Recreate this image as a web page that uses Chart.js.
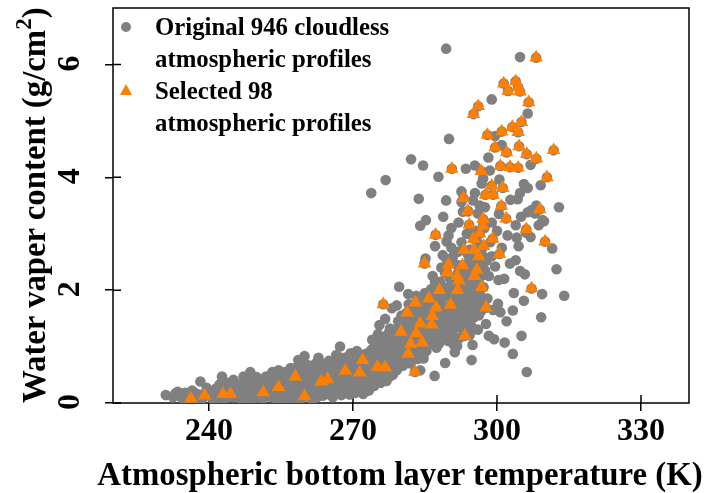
<!DOCTYPE html>
<html>
<head>
<meta charset="utf-8">
<script src="https://cdn.jsdelivr.net/npm/chart.js@4"></script>
<style>
  body { margin: 0; background: #fff; }
  #wrap { position: relative; width: 705px; height: 493px; }
  #legend div { position: absolute; left: 155px; font: bold 24.8px "Liberation Serif", serif; color: #000; white-space: nowrap; line-height: 32px; }
  #legend .dot { position: absolute; left: 121px; top: 22px; width: 10px; height: 10px; border-radius: 50%; background: #808080; }
  #legend .tri { position: absolute; left: 120px; top: 84px; width: 0; height: 0; border-left: 6px solid transparent; border-right: 6px solid transparent; border-bottom: 11px solid #ff7f00; }
  #ytitle { position: absolute; left: 53px; top: 403px; transform-origin: 0 0; transform: rotate(-90deg) translateY(-100%); font: bold 32.8px/38px "Liberation Serif", serif; color: #000; white-space: nowrap; }
  #ytitle sup { font-size: 23px; line-height: 0; vertical-align: 14px; }
  #xtitle { position: absolute; left: 400px; top: 455px; transform: translateX(-50%); font: bold 32.8px/38px "Liberation Serif", serif; color: #000; white-space: nowrap; }
</style>
</head>
<body>
<div id="wrap">
  <canvas id="chart" width="705" height="493"></canvas>
  <div id="ytitle">Water vaper content (g/cm<sup>2</sup>)</div>
  <div id="xtitle">Atmospheric bottom layer temperature (K)</div>
  <div id="legend">
    <span class="dot"></span>
    <div style="top:11px">Original 946 cloudless</div>
    <div style="top:43px">atmospheric profiles</div>
    <span class="tri"></span>
    <div style="top:75px">Selected 98</div>
    <div style="top:107px">atmospheric profiles</div>
  </div>
</div>
<script>
// [temperature K, water vapour g/cm2]
const originalProfiles = [
  [289.4,6.28],[304.8,6.13],[298.9,5.38],[306.4,5.13],[290,4.68],[282.1,4.32],[284.6,4.21],[287.8,4.01],[276.8,3.95],[273.8,3.72],
  [283.7,3.62],[289.4,3.59],[285.2,3.24],[293.5,4.15],[295.4,4.21],[298.2,4.35],[301,4.57],[299.6,4.73],[298.5,4.12],[297.1,3.98],
  [296.8,3.89],[300.5,3.96],[292.6,3.75],[295.4,3.72],[292.6,3.56],[295,3.59],[296.4,3.5],[297.5,3.47],[292.9,3.39],[296,3.36],
  [305.6,3.88],[306.4,3.81],[309.1,3.86],[307,4.22],[304.8,3.72],[304.3,3.61],[312.9,3.47],[308.2,3.5],[307.2,3.42],[306.4,3.38],
  [309.5,3.24],[307.9,3.36],[284,3.14],[289.9,2.97],[287.1,2.78],[289.5,2.86],[290.8,2.59],[285.1,2.56],[293.7,3],[302.2,2.97],
  [303.9,3.15],[308.7,3.15],[309.8,3.22],[307,2.94],[304.1,2.93],[304.5,2.78],[311.5,2.74],[298.9,2.6],[303.9,2.53],[302.7,2.47],
  [304.8,2.34],[305.8,2.28],[312.4,2.37],[300.3,2.18],[309.4,1.93],[314,1.9],[305.6,1.81],[303.3,1.64],[309.2,1.52],[300.7,1.61],
  [300.2,1.76],[295.4,1.7],[295.1,1.51],[293.3,1.54],[296,1.3],[305.1,1.19],[298.3,1.19],[299.4,1.13],[301.6,1.07],[294.9,1.03],
  [303.3,0.87],[294.7,0.76],[291.2,0.9],[290.9,1.04],[291.7,1.01],[289.2,0.71],[306.2,0.55],[287,0.48],[279.6,2.06],[274,1.12],
  [267.3,1],[281.5,1.93],[279.1,1.73],[278.1,1.68],[276.7,1.49],[275.5,1.38],[287.2,1.04],[284.7,0.79],[284,0.58],[277,0.39],[279.1,0.58],
  [231,0.14],[232.5,0.1],[233,0.17],[234,0.12],[235,0.18],[235.5,0.1],[236,0.14],[237,0.18],[237.5,0.09],[238,0.15],
  [238.2,0.38],[239,0.12],[240,0.2],[240.5,0.1],[241,0.17],[241.5,0.26],[242,0.12],[242.5,0.2],[242.7,0.47],[243.5,0.28],
  [244,0.1],[244.5,0.18],[245.1,0.41],[245.5,0.25],[246,0.12],[246.5,0.2],[247,0.33],[247.2,0.47],[247.5,0.08],[248,0.16],
  [248.6,0.55],[248.8,0.26],[249.2,0.38],[249.6,0.1],[250,0.2],[250.4,0.3],[250.9,0.42],[251.2,0.07],[251.6,0.16],[252,0.26],
  [252.3,0.38],[252.7,0.48],[253.1,0.1],[253.5,0.2],[253.8,0.33],[254.2,0.44],[254.5,0.58],[254.9,0.08],[255.3,0.17],[255.6,0.28],
  [256,0.4],[256.3,0.52],[256.7,0.12],[257,0.23],[257.4,0.35],[257.8,0.47],[258.1,0.62],[258.6,0.76],[258.4,0.1],[258.9,0.22],
  [259.2,0.33],[259.5,0.45],[259.9,0.83],[259.8,0.58],[260.2,0.12],[260.6,0.25],[260.9,0.38],[261.3,0.5],[261.6,0.64],[261.9,0.18],
  [262.3,0.3],[262.8,0.8],[262.7,0.42],[263,0.56],[263.3,0.7],[263.6,0.2],[264,0.33],[264.3,0.47],[264.7,0.6],[265,0.75],
  [265.3,0.14],[265.6,0.28],[265.9,0.73],[266,0.4],[266.4,0.54],[266.7,0.66],[267.1,0.22],[267.4,0.35],[267.7,0.48],[268,0.62],
  [268.3,0.8],[268.6,0.3],[269,0.82],[269,0.44],[269.4,0.57],[269.7,0.7],[270,0.25],[270.3,0.38],[270.6,0.52],[270.9,0.66],
  [271.2,0.8],[271.5,0.27],[271.9,0.42],[272.2,0.58],[272.5,0.72],[273,0.88],[273.1,0.35],[273.4,0.5],[273.7,0.65],[274,0.8],
  [274.3,0.95],[274.6,0.42],[275,0.58],[275.2,1.22],[275.3,0.75],[275.6,0.9],[275.9,1.05],[276.2,0.5],[276.5,0.66],[276.8,0.82],
  [277.1,1],[277.4,1.18],[277.7,1.32],[277.9,0.6],[278.2,0.78],[278.5,0.95],[278.8,1.12],[279.1,1.28],[279.4,1.45],[279.7,0.72],
  [280,0.9],[280.3,1.08],[280.6,1.25],[280.9,1.42],[281.2,1.6],[281.5,0.82],[281.8,1],[282.1,1.2],[282.4,1.38],[282.7,1.55],
  [283,1.72],[283.3,0.92],[283.6,1.12],[283.9,1.3],[284.2,1.5],[284.5,1.68],[284.8,1.85],[285.1,1.05],[285.4,1.25],[285.7,1.45],
  [286,1.65],[286.3,2.02],[286.6,2.25],[286.9,1.15],[287.2,1.35],[287.5,1.58],[287.8,1.8],[288.1,2.15],[288.4,2.4],[288.7,2.62],
  [289,1.25],[289.3,1.48],[289.6,1.7],[289.9,1.95],[290.2,2.2],[290.5,2.75],[290.8,1.2],[291.1,1.42],[291.4,1.65],[291.7,1.88],
  [292,2.1],[292.3,2.35],[292.6,2.85],[292.9,1.3],[293.2,1.75],[293.5,1.95],[293.8,2.18],[294.1,2.5],[294.4,2.72],[294.7,1.35],
  [295,1.85],[295.3,2.05],[295.6,2.55],[295.9,2.85],[296.2,1.55],[296.5,1.9],[296.8,2.4],[297.1,2.6],[297.4,3.1],[297.7,1.4],
  [298,1.85],[298.3,2.25],[298.6,2.85],[298.9,3.2],[299.2,1.65],[299.6,2.42],[300,3.05],[300.4,3.35],[301,2.75],[301.5,2.2],
  [302,1.45],[302.8,3.6],[303.5,1.95],[305,3.3],[306,3.02],[292,3.2],[294,3.4],[295.5,3.05],[290.5,3.1],[288.8,3.3],
  [233.5,0.2],[236.5,0.22],[239.5,0.27],[240.8,0.06],[242.2,0.33],[243.3,0.08],[243.9,0.36],[245,0.1],[246.2,0.3],[247.8,0.25],
  [248.2,0.38],[249,0.07],[249.9,0.46],[250.8,0.14],[251.5,0.33],[251.9,0.47],[252.8,0.2],[253.2,0.55],[254,0.06],[254.8,0.3],
  [255.2,0.48],[256,0.09],[256.5,0.31],[257,0.62],[257.6,0.05],[258,0.28],[258.3,0.42],[259,0.6],[259.2,0.08],[260,0.38],
  [260.4,0.68],[261,0.12],[261.2,0.3],[261.8,0.5],[262.2,0.7],[262.5,0.1],[263.1,0.28],[263.8,0.45],[264.1,0.62],[264.5,0.16],
  [265.2,0.3],[265.5,0.55],[266.2,0.2],[266.5,0.85],[267,0.42],[267.6,0.14],[267.9,0.72],[268.5,0.25],[268.9,0.55],[269.3,0.15],
  [269.6,0.38],[270.2,0.75],[270.5,0.18],[270.8,0.92],[271.4,0.6],[271.8,0.33],[272.1,0.16],[272.4,0.48],[272.8,0.78],[273.3,0.22],
  [273.6,0.58],[273.9,0.95],[274.4,0.3],[274.7,0.7],[275.1,0.46],[275.4,1.05],[275.8,0.36],[276.1,0.78],[276.4,0.55],[276.7,1.18],
  [277,0.42],[277.3,0.68],[277.6,0.88],[278,1.1],[278.3,0.5],[278.6,0.7],[278.9,1.3],[279.2,0.6],[279.5,0.88],[279.8,1.1],
  [280.1,1.55],[280.4,0.66],[280.7,0.8],[281,1.05],[281.3,1.32],[281.6,1.75],[282,0.7],[282.3,0.92],[282.6,1.12],[282.9,1.48],
  [283.2,1.9],[283.5,0.78],[283.8,1.02],[284.1,1.22],[284.4,1.4],[284.7,1.6],[285,1.95],[285.3,0.92],[285.6,1.15],[285.9,1.35],
  [286.2,1.55],[286.5,1.75],[286.8,1.92],[287.1,2.15],[287.4,0.98],[287.7,1.2],[288,1.42],[288.3,1.65],[288.6,1.88],[288.9,2.05],
  [289.2,2.3],[289.5,2.55],[289.8,1.1],[290.1,1.35],[290.4,1.55],[290.7,1.78],[291,2],[291.3,2.22],[291.6,2.45],[291.9,2.68],
  [292.2,1.15],[292.5,1.4],[292.8,1.62],[293.1,1.85],[293.4,2.08],[293.7,2.3],[294,2.62],[294.3,1.2],[294.6,1.6],[294.9,1.78],
  [295.2,2.15],[295.5,2.35],[296.1,1.72],[296.4,2.1],[296.7,2.25],[297,2.75],[297.3,1.85],
  [234.5,0.08],[238.6,0.08],[241.6,0.07],[243,0.13],[244.2,0.26],[245.6,0.34],[246.7,0.06],[247.3,0.14],[248.5,0.11],[249.4,0.29],
  [250.2,0.1],[250.6,0.23],[251.3,0.36],[252.2,0.12],[253,0.29],[253.6,0.42],[254.3,0.14],[254.6,0.22],[255.4,0.39],[255.9,0.55],
  [256.3,0.18],[256.9,0.45],[257.3,0.14],[257.9,0.18],[258.2,0.53],[258.8,0.35],[259.4,0.17],[259.7,0.7],[260.1,0.5],[260.7,0.17],
  [261.1,0.42],[261.5,0.06],[262,0.38],[262.4,0.58],[262.9,0.18],[263.2,0.38],[263.7,0.13],[264.2,0.24],[264.6,0.38],[264.9,0.52],
  [265.4,0.65],[265.8,0.1],[266.1,0.47],[266.6,0.3],[267.2,0.57],[267.5,0.8],[267.8,0.28],[268.2,0.48],[268.7,0.68],[269.1,0.22],
  [269.5,0.88],[269.9,0.48],[270.4,0.3],[270.7,0.45],[271,0.72],[271.6,0.5],[272,0.68],[272.3,0.86],[272.7,0.25],[273.2,0.68],
  [273.8,0.42],[274.2,0.55],[274.5,0.85],[274.9,0.36],[275.2,0.65],[275.5,0.82],[275.7,1.12],[276,0.42],[276.3,0.92],[276.6,1.05],
  [276.9,0.58],[277.2,0.78],[277.5,1.25],[277.8,0.48],[278.1,0.9],[278.4,1.2],[278.7,0.58],[279,1],[279.3,1.18],[279.6,1.38],
  [279.9,0.78],[280.2,1.32],[280.5,1.48],[280.8,0.72],[281.1,0.95],[281.4,1.15],[281.7,1.5],[282.2,1.05],[282.5,1.28],[282.8,1.65],
  [283.1,0.85],[283.4,1.35],[283.7,1.6],[284,0.95],[284.3,1.12],[284.6,1.3],[284.9,1.75],[285.2,1.52],[285.5,1.02],[285.8,1.28],
  [286.1,1.45],[286.4,1.1],[286.7,1.6],[287,1.82],[287.3,1.25],[287.6,1.5],[287.9,1.05],[288.2,1.32],[288.5,1.75],[288.8,1.55],
  [289.1,1.95],[289.4,1.18],[289.7,1.42],[290,1.62],[290.3,1.88],[290.6,2.1],[290.9,1.3],[291.2,1.55],[291.5,1.78],[291.8,2.3],
  [292.1,1.5],[292.4,1.72],[292.7,1.98],[293,2.2],[293.3,1.42],[293.6,1.65],[293.9,2.4],[294.2,1.92],[294.5,2.05],[294.8,2.28],
  [295.1,2.48],[295.7,1.98],[296,2.2],[296.3,2.45],[296.6,1.62],[297.2,2.05],[297.5,2.35],[297.8,2.52]
];
const selectedProfiles = [
  [308.15,6.12],[301.4,5.66],[303.9,5.7],[302.3,5.53],[304.4,5.6],[304.8,5.52],[306.6,5.33],[296.1,5.26],[295.1,5.12],[305.1,4.98],
  [303.2,4.89],[304.4,4.8],[301,4.81],[298,4.75],[299.6,4.53],[304.6,4.55],[302,4.44],[306.2,4.41],[308.2,4.33],[311.8,4.48],
  [290.6,4.15],[296.7,4.11],[300.7,4.2],[302.7,4.18],[304.4,4.17],[310.4,4],[301.2,3.81],[298.9,3.85],[297.6,3.69],[299.2,3.69],
  [293,3.63],[300.9,3.49],[308.9,3.43],[293.9,3.4],[297.1,3.26],[301.9,3.27],[294.2,3.16],[297.1,3.14],[306.1,3.08],[287.2,2.98],
  [296.4,3],[295.1,2.91],[299.1,2.91],[310,2.86],[297.2,2.78],[293.1,2.71],[295.2,2.71],[296.2,2.6],[300.5,2.64],[284.9,2.47],
  [289.9,2.45],[292.8,2.44],[295.8,2.36],[289.6,2.31],[291.7,2.25],[295.3,2.25],[292.1,2.17],[296.8,2.05],[307.2,2.03],[288,2],
  [291.8,2],[285.8,1.85],[283,1.78],[276.3,1.75],[290.3,1.74],[297.7,1.69],[287.3,1.69],[281.3,1.6],[286.5,1.54],[284,1.41],
  [286.4,1.39],[280,1.26],[283.2,1.24],[293.3,1.19],[282,1.05],[284.4,1.07],[281.5,0.87],[272,0.76],[275.1,0.64],[276.7,0.63],
  [268.4,0.57],[271.4,0.54],[282.9,0.55],[236.2,0.08],[239.1,0.13],[242.9,0.16],[244.5,0.16],[251.3,0.19],[254.5,0.28],[258,0.47],
  [259.9,0.12],[263.4,0.38],[264.7,0.42]
];
const xTicks = [240, 270, 300, 330];
const yTicks = [0, 2, 4, 6];

const serif = '"Liberation Serif", "Times New Roman", serif';

// ticks cross the axis line, frame goes all the way round
const framePlugin = {
  id: 'frame',
  beforeDatasetsDraw(chart) {
    const { ctx, chartArea: a, scales } = chart;
    ctx.save();
    ctx.strokeStyle = '#000';
    ctx.lineWidth = 1.5;
    ctx.beginPath();
    xTicks.forEach(v => {
      const x = scales.x.getPixelForValue(v);
      ctx.moveTo(x, a.bottom);
      ctx.lineTo(x, a.bottom - 8);
    });
    yTicks.forEach(v => {
      const y = scales.y.getPixelForValue(v);
      ctx.moveTo(a.left, y);
      ctx.lineTo(a.left + 8, y);
    });
    ctx.stroke();
    ctx.strokeRect(a.left, a.top, a.right - a.left, a.bottom - a.top);
    ctx.restore();
  }
};

new Chart(document.getElementById('chart'), {
  type: 'scatter',
  data: {
    datasets: [
      {
        label: 'Original 946 cloudless atmospheric profiles',
        // the selected profiles are part of the original set, so they get a circle too
        data: originalProfiles.concat(selectedProfiles).map(p => ({ x: p[0], y: p[1] })),
        order: 2,
        pointStyle: 'circle',
        pointRadius: 5.3,
        backgroundColor: '#808080',
        borderColor: '#808080',
        borderWidth: 0
      },
      {
        label: 'Selected 98 atmospheric profiles',
        data: selectedProfiles.map(p => ({ x: p[0], y: p[1] })),
        order: 1,
        pointStyle: 'triangle',
        pointRadius: 7.8,
        backgroundColor: '#ff7f00',
        borderColor: '#ff7f00',
        borderWidth: 0
      }
    ]
  },
  options: {
    responsive: false,
    animation: false,
    layout: { padding: { top: 8, right: 16 } },
    plugins: { legend: { display: false }, tooltip: { enabled: false } },
    scales: {
      x: {
        type: 'linear',
        min: 220,
        max: 340,
        afterBuildTicks: s => { s.ticks = xTicks.map(v => ({ value: v })); },
        afterFit: s => { s.height = 90; s.paddingLeft = 0; s.paddingRight = 0; },
        grid: { drawOnChartArea: false, drawTicks: true, tickLength: 8, color: '#000', lineWidth: 1.5 },
        border: { display: false },
        ticks: { color: '#000', maxRotation: 0, padding: 2, font: { family: serif, weight: 'bold', size: 32 } }
      },
      y: {
        min: 0,
        max: 7,
        afterBuildTicks: s => { s.ticks = yTicks.map(v => ({ value: v })); },
        afterFit: s => { s.width = 113; s.paddingTop = 0; s.paddingBottom = 0; },
        grid: { drawOnChartArea: false, drawTicks: true, tickLength: 8, color: '#000', lineWidth: 1.5 },
        border: { display: false },
        ticks: { color: '#000', padding: 34, labelOffset: -9, maxRotation: 90, minRotation: 90, font: { family: serif, weight: 'bold', size: 32 } }
      }
    }
  },
  plugins: [framePlugin]
});
</script>
</body>
</html>
